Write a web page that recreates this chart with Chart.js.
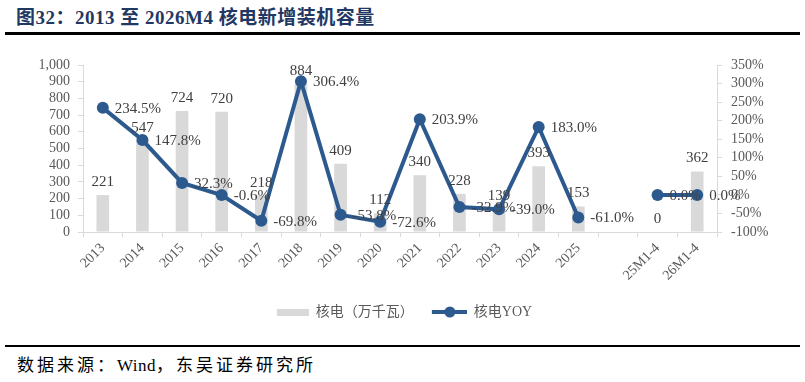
<!DOCTYPE html>
<html>
<head>
<meta charset="utf-8">
<script src="https://cdn.jsdelivr.net/npm/chart.js@4.4.1/dist/chart.umd.min.js"></script>
<style>
    body { margin: 0; background: #fff; }
    #page { position: relative; width: 805px; height: 382px; overflow: hidden; }
    #title {
        position: absolute; left: 16px; top: 2px;
        font: bold 19px "Liberation Serif", "Noto Sans CJK SC";
        letter-spacing: 0.5px;
        color: #1f3864; white-space: nowrap;
    }
    .rule { position: absolute; left: 5px; width: 795px; height: 3px; background: #000; }
    #source {
        position: absolute; left: 17px; top: 351px;
        font: 17px "Liberation Serif", "Noto Sans CJK SC";
        letter-spacing: 3px;
        color: #000; white-space: nowrap;
    }
    #source span { letter-spacing: 0.5px; }
    #wrap { position: absolute; left: 0; top: 40px; width: 805px; height: 294px; }
</style>
</head>
<body>
<div id="page">
    <div id="title">图32：2013 至 2026M4 核电新增装机容量</div>
    <div class="rule" style="top:32px"></div>
    <div id="wrap"><canvas id="chart"></canvas></div>
    <div class="rule" style="top:345px; height:2px"></div>
    <div id="source">数据来源：<span>Wind</span>，东吴证券研究所</div>
</div>
<script>
'use strict';

const categories = ['2013', '2014', '2015', '2016', '2017', '2018', '2019', '2020', '2021', '2022', '2023', '2024', '2025', '', '25M1-4', '26M1-4'];
const capacity = [221, 547, 724, 720, 218, 884, 409, 112, 340, 228, 139, 393, 153, null, 0, 362];
const yoy = [234.5, 147.8, 32.3, -0.6, -69.8, 306.4, -53.8, -72.6, 203.9, -32.9, -39.0, 183.0, -61.0, null, 0.0, 0.0];

const BAR_COLOR = '#d9d9d9';
const LINE_COLOR = '#2d5a8e';
const FONT = '"Liberation Serif", "Noto Sans CJK SC"';

// legend swatches
const barSwatch = document.createElement('canvas');
barSwatch.width = 36; barSwatch.height = 7;
let sctx = barSwatch.getContext('2d');
sctx.fillStyle = BAR_COLOR;
sctx.fillRect(4, 0, 32, 7);

const lineSwatch = document.createElement('canvas');
lineSwatch.width = 36; lineSwatch.height = 12;
sctx = lineSwatch.getContext('2d');
sctx.strokeStyle = LINE_COLOR;
sctx.lineWidth = 4;
sctx.beginPath(); sctx.moveTo(1, 6); sctx.lineTo(36, 6); sctx.stroke();
sctx.fillStyle = LINE_COLOR;
sctx.beginPath(); sctx.arc(19, 6, 5.5, 0, Math.PI * 2); sctx.fill();

const valueLabels = {
    id: 'valueLabels',
    afterDatasetsDraw(chart) {
        const ctx = chart.ctx;
        ctx.save();
        ctx.font = '15px ' + FONT;
        ctx.fillStyle = '#404040';
        const barMeta = chart.getDatasetMeta(0);
        ctx.textAlign = 'center';
        ctx.textBaseline = 'middle';
        barMeta.data.forEach((el, i) => {
            if (capacity[i] === null) return;
            ctx.fillText(capacity[i].toString(), el.x, el.y - 13);
        });
        const lineMeta = chart.getDatasetMeta(1);
        ctx.textAlign = 'left';
        lineMeta.data.forEach((el, i) => {
            if (yoy[i] === null) return;
            ctx.fillText(yoy[i].toFixed(1) + '%', el.x + 12, el.y + 1);
        });
        ctx.restore();
    }
};

const axisTicks = { display: true, drawOnChartArea: false, drawTicks: true, tickLength: 5, color: '#d9d9d9' };

const ctx = document.getElementById('chart').getContext('2d');
const myChart = new Chart(ctx, {
    type: 'bar',
    data: {
        labels: categories,
        datasets: [
            {
                type: 'bar',
                label: '核电（万千瓦）',
                data: capacity,
                backgroundColor: BAR_COLOR,
                barPercentage: 0.32,
                categoryPercentage: 1,
                yAxisID: 'y',
                order: 1
            },
            {
                type: 'line',
                label: '核电YOY',
                data: yoy,
                borderColor: LINE_COLOR,
                backgroundColor: LINE_COLOR,
                borderWidth: 4,
                pointRadius: 6,
                pointBackgroundColor: LINE_COLOR,
                pointBorderWidth: 0,
                tension: 0,
                spanGaps: false,
                yAxisID: 'y1',
                order: 0
            }
        ]
    },
    options: {
        responsive: true,
        maintainAspectRatio: false,
        animation: false,
        layout: { padding: { top: 25, bottom: 5, left: 0, right: 0 } },
        plugins: {
            tooltip: { enabled: false },
            legend: {
                position: 'bottom',
                labels: {
                    usePointStyle: true,
                    pointStyleWidth: 36,
                    padding: 10,
                    color: '#595959',
                    font: { size: 14, family: FONT },
                    generateLabels: () => [
                        { text: '核电（万千瓦）\u3000', pointStyle: barSwatch, fontColor: '#595959', datasetIndex: 0, lineWidth: 0 },
                        { text: '核电YOY', pointStyle: lineSwatch, fontColor: '#595959', datasetIndex: 1, lineWidth: 0 }
                    ]
                }
            }
        },
        scales: {
            x: {
                grid: Object.assign({ offset: true }, axisTicks),
                border: { display: true, color: '#d9d9d9' },
                ticks: {
                    color: '#595959',
                    font: { size: 14, family: FONT },
                    maxRotation: 45,
                    minRotation: 45,
                    autoSkip: false,
                    padding: 3
                },
                afterFit: scale => { scale.height = 63; }
            },
            y: {
                position: 'left',
                min: 0,
                max: 1000,
                grid: axisTicks,
                border: { display: true, color: '#d9d9d9' },
                ticks: {
                    stepSize: 100,
                    autoSkip: false,
                    color: '#595959',
                    font: { size: 14, family: FONT },
                    padding: 8,
                    callback: v => v.toLocaleString('en-US')
                },
                afterFit: scale => { scale.width = 83; }
            },
            y1: {
                position: 'right',
                min: -100,
                max: 350,
                grid: axisTicks,
                border: { display: true, color: '#d9d9d9' },
                ticks: {
                    stepSize: 50,
                    autoSkip: false,
                    color: '#595959',
                    font: { size: 14, family: FONT },
                    padding: 9,
                    callback: v => v + '%'
                },
                afterFit: scale => { scale.width = 88; }
            }
        }
    },
    plugins: [valueLabels]
});
</script>
</body>
</html>
